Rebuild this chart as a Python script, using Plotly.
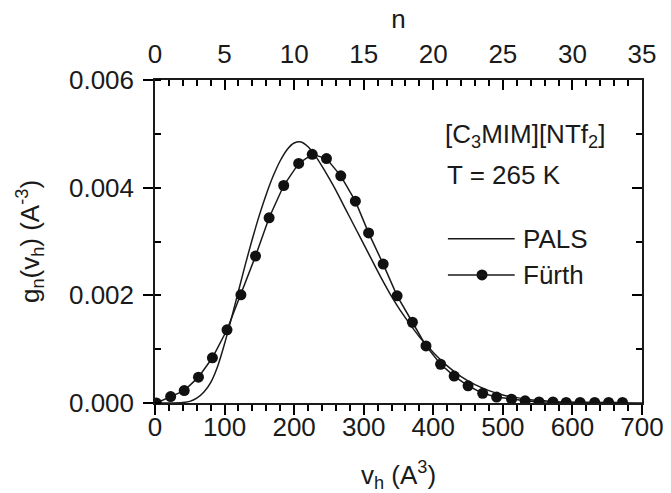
import plotly.graph_objects as go

# ---- data ----
furth_v = [2, 22.5, 42, 62.5, 82.5, 103.5, 123.5, 144.5, 164, 185, 206.5, 226, 246.5,
           267, 288, 307, 328, 348, 370, 389.5, 410.5, 430, 450, 471, 491, 512.5,
           532, 552, 572, 591, 611, 632, 652, 672]
furth_g = [0.0, 0.00012, 0.00023, 0.00048, 0.00084, 0.00136, 0.00201, 0.00273, 0.00344,
           0.00404, 0.00445, 0.00462, 0.00454, 0.00422, 0.00375, 0.00316, 0.00258,
           0.00199, 0.00150, 0.00106, 0.00072, 0.00050, 0.00032, 0.00018, 0.00011,
           0.00007, 0.00004, 0.00002, 0.00002, 0.00001, 0.00001, 0.00001, 0.00001, 0.00001]

pals_v = [0, 20, 40, 50, 60, 70, 80, 90, 100, 110, 120, 130, 140, 150, 160, 170, 180,
          190, 200, 210, 220, 230, 240, 250, 260, 270, 280, 290, 300, 310, 320, 330,
          340, 350, 360, 370, 380, 390, 400, 420, 440, 460, 480, 500, 520, 540, 560,
          580, 600, 650, 700]
pals_g = [0, 0, 0.00001, 0.00003, 0.00009, 0.0002, 0.00038, 0.00068, 0.0011, 0.00158,
          0.00208, 0.00258, 0.00305, 0.00349, 0.00388, 0.00422, 0.0045, 0.00471, 0.00483,
          0.00485, 0.00476, 0.0046, 0.0044, 0.00418, 0.00395, 0.0037, 0.00345,
          0.0032, 0.00295, 0.0027, 0.00245, 0.00221, 0.00198, 0.00177, 0.00158,
          0.0014, 0.00123, 0.00108, 0.00094, 0.00069, 0.00049, 0.00034, 0.00023,
          0.00015, 0.0001, 0.00006, 0.00004, 0.00002, 0.00001, 0.000003, 0]

n_ticks = [0, 5, 10, 15, 20, 25, 30, 35]
v_ticks = [0, 100, 200, 300, 400, 500, 600, 700]
g_ticks = [0.000, 0.002, 0.004, 0.006]

FONT = "Liberation Sans, Arial, sans-serif"
INK = "#1a1a1a"
TICK = "#000000"
FS = 26

fig = go.Figure()

fig.add_trace(go.Scatter(x=pals_v, y=pals_g, mode="lines",
                         line=dict(color=INK, width=1.5, shape="spline", smoothing=0.8),
                         showlegend=False, hoverinfo="skip"))
fig.add_trace(go.Scatter(x=furth_v, y=furth_g, mode="lines+markers",
                         line=dict(color=INK, width=1.5),
                         marker=dict(color="#111111", size=11),
                         showlegend=False, hoverinfo="skip"))
# invisible traces to activate top (n) and right axes
fig.add_trace(go.Scatter(x=n_ticks, y=[None] * len(n_ticks), xaxis="x2", yaxis="y",
                         mode="lines", showlegend=False, hoverinfo="skip"))
fig.add_trace(go.Scatter(x=v_ticks, y=[None] * len(v_ticks), xaxis="x", yaxis="y2",
                         mode="lines", showlegend=False, hoverinfo="skip"))

axis_common = dict(showgrid=False, zeroline=False, showline=True, linecolor=INK, linewidth=1.5,
                   automargin=False,
                   tickcolor=TICK, tickwidth=2, tickfont=dict(family=FONT, size=FS, color=INK))
minor_common = dict(tickcolor=TICK, tickwidth=1.5)

fig.update_layout(
    width=671, height=493,
    margin=dict(l=155, r=29, t=80, b=90),
    paper_bgcolor="white", plot_bgcolor="white",
    font=dict(family=FONT, size=FS, color=INK),
    xaxis=dict(range=[0, 700], dtick=100, ticks="outside", ticklen=10,
               ticklabelstandoff=-10,
               minor=dict(dtick=20, ticks="outside", ticklen=6, **minor_common),
               title=dict(text="v<sub>h</sub> (A<sup>3</sup>)", font=dict(family=FONT, size=FS), standoff=36),
               **axis_common),
    xaxis2=dict(range=[0, 35], dtick=5, overlaying="x", side="top", anchor="y",
                ticks="inside", ticklen=10, ticklabelstandoff=5,
                minor=dict(dtick=1, ticks="inside", ticklen=6, **minor_common),
                title=dict(text="n", font=dict(family=FONT, size=FS), standoff=3),
                **axis_common),
    yaxis=dict(range=[0, 0.006], dtick=0.002, tickformat=".3f",
               ticks="outside", ticklen=10, ticklabelstandoff=4,
               minor=dict(dtick=0.001, ticks="inside", ticklen=6, **minor_common),
               title=dict(text="g<sub>n</sub>(v<sub>h</sub>) (A<sup>-3</sup>)", font=dict(family=FONT, size=FS), standoff=22),
               **axis_common),
    yaxis2=dict(range=[0, 0.006], dtick=0.002, overlaying="y", side="right", anchor="x",
                ticks="inside", ticklen=10, showticklabels=False,
                minor=dict(dtick=0.001, ticks="inside", ticklen=6, **minor_common),
                **axis_common),
)

# text annotations
fig.add_annotation(x=414, y=0.00497, xref="x", yref="y", text="[C<sub>3</sub>MIM][NTf<sub>2</sub>]",
                   showarrow=False, xanchor="left", yanchor="middle", font=dict(family=FONT, size=FS, color=INK))
fig.add_annotation(x=417, y=0.00424, xref="x", yref="y", text="T = 265 K",
                   showarrow=False, xanchor="left", yanchor="middle", font=dict(family=FONT, size=FS, color=INK))

# manual legend
leg_x0, leg_x1, leg_dot, leg_txt = 421, 517, 470, 526
y_pals, y_furth = 0.00305, 0.00238
fig.add_shape(type="line", x0=leg_x0, x1=leg_x1, y0=y_pals, y1=y_pals, xref="x", yref="y",
              line=dict(color=INK, width=1.5))
fig.add_shape(type="line", x0=leg_x0, x1=leg_x1, y0=y_furth, y1=y_furth, xref="x", yref="y",
              line=dict(color=INK, width=1.5))
fig.add_trace(go.Scatter(x=[leg_dot], y=[y_furth], mode="markers", marker=dict(color="#111111", size=11),
                         showlegend=False, hoverinfo="skip"))
fig.add_annotation(x=leg_txt, y=y_pals, xref="x", yref="y", text="PALS", showarrow=False,
                   xanchor="left", yanchor="middle", font=dict(family=FONT, size=FS, color=INK))
fig.add_annotation(x=leg_txt, y=y_furth, xref="x", yref="y", text="Fürth", showarrow=False,
                   xanchor="left", yanchor="middle", font=dict(family=FONT, size=FS, color=INK))

fig.write_html("out.html")
